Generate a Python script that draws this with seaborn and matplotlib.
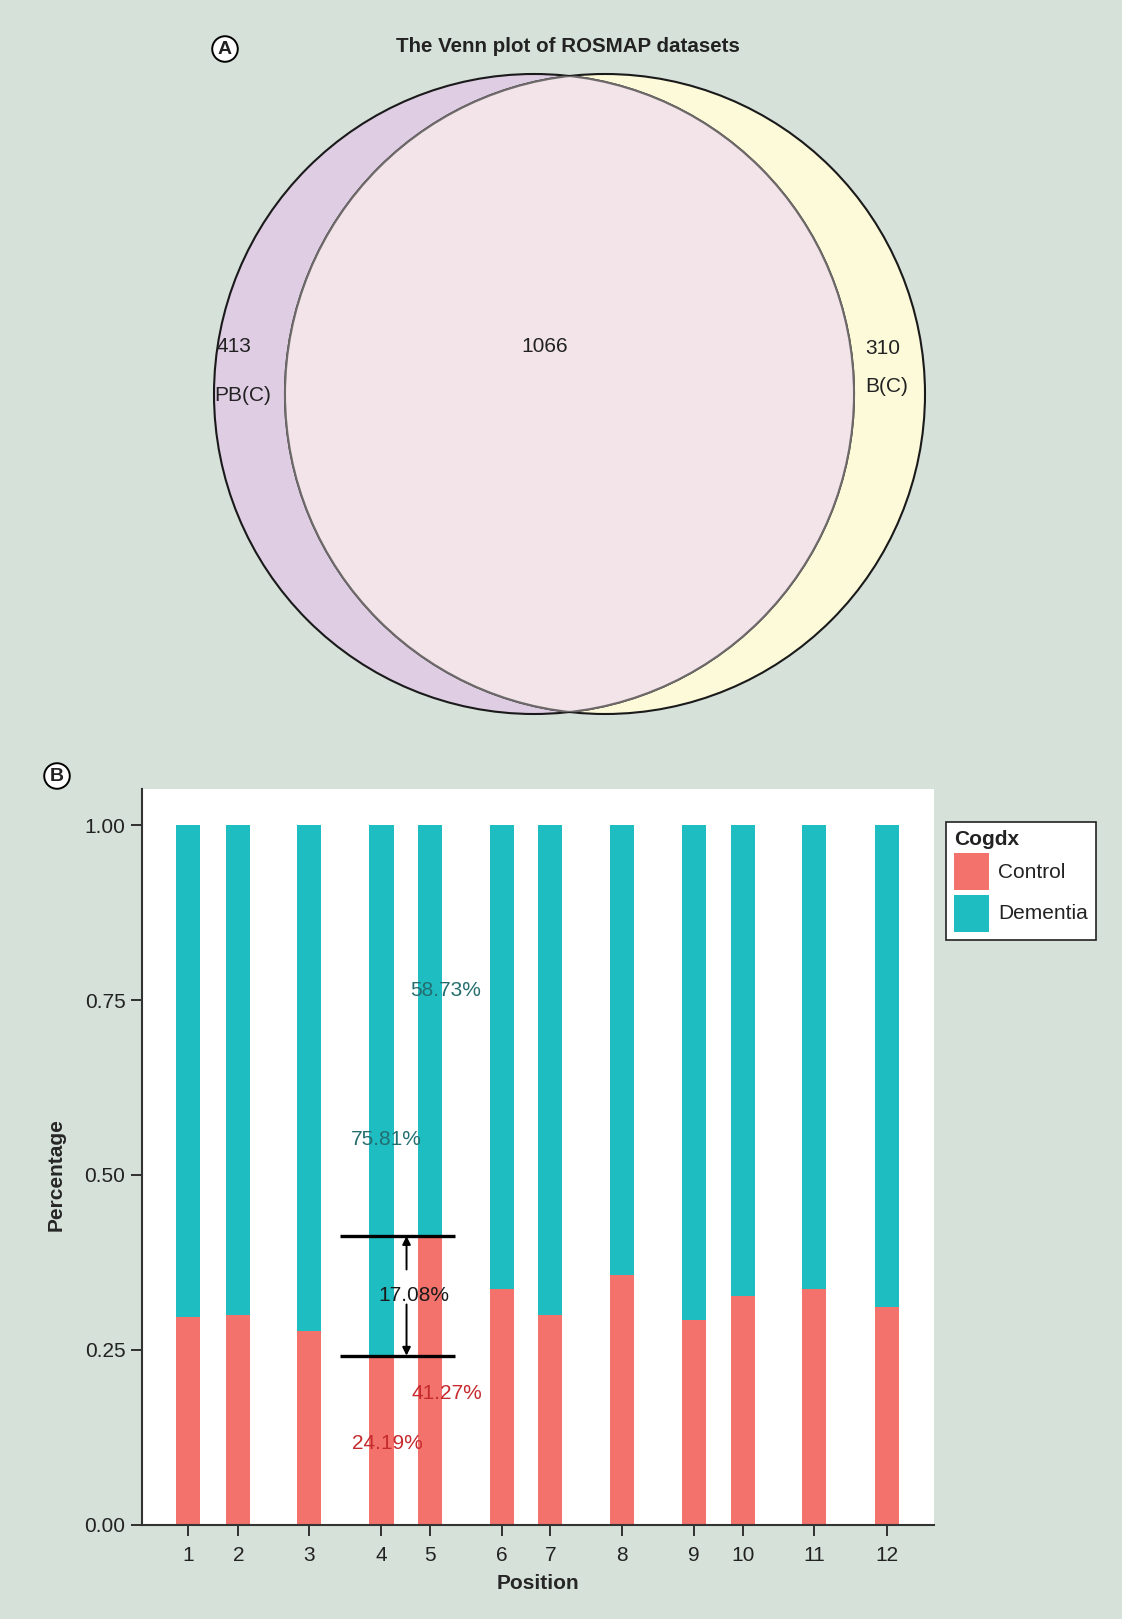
import numpy as np
import pandas as pd
import matplotlib
matplotlib.use("Agg")
import matplotlib.pyplot as plt
from matplotlib.patches import Circle, Patch
import seaborn as sns

# ---------------- data ----------------
venn_labels = ["PB(C)", "B(C)"]
venn_only_left = 413
venn_shared = 1066
venn_only_right = 310

position_values = [1.00, 1.70, 2.68, 3.69, 4.37, 5.37, 6.04, 7.04, 8.04, 8.72, 9.71, 10.73]
position_labels = ["1", "2", "3", "4", "5", "6", "7", "8", "9", "10", "11", "12"]
control_share = [0.2965, 0.2994, 0.2773, 0.2419, 0.4127, 0.3378,
                 0.2994, 0.3570, 0.2935, 0.3274, 0.3378, 0.3110]
group_names = ["Control", "Dementia"]

# ---------------- style ----------------
BG = "#d6e1d9"
RED = "#f3736c"
TEAL = "#1ebdc1"
RED_TXT = "#c62a2e"
TEAL_TXT = "#246e70"
FS = 15

sns.set_style("ticks")
plt.rcParams["font.family"] = ["Liberation Sans", "DejaVu Sans"]
plt.rcParams["text.color"] = "#222222"

fig = plt.figure(figsize=(11.22, 16.19), dpi=100, facecolor=BG)

# ---------------- panel A: Venn diagram (pixel-space overlay) ----------------
ov = fig.add_axes([0, 0, 1, 1])
ov.set_xlim(0, 1122)
ov.set_ylim(1619, 0)
ov.axis("off")
ov.patch.set_alpha(0)

r = 320
cl = (534, 394)
cr = (605, 394)
ov.add_patch(Circle(cl, r, facecolor="#dfcde4", edgecolor="none", zorder=1))
ov.add_patch(Circle(cr, r, facecolor="#fcfad9", edgecolor="none", zorder=1))
ov.add_patch(Circle(cl, r, facecolor="none", edgecolor="#1a1a1a", lw=1.5, zorder=2))
ov.add_patch(Circle(cr, r, facecolor="none", edgecolor="#1a1a1a", lw=1.5, zorder=2))

clip_left = Circle(cl, r, transform=ov.transData)
clip_right = Circle(cr, r, transform=ov.transData)
mid = Circle(cr, r, facecolor="#f3e4ea", edgecolor="none", zorder=3)
ov.add_patch(mid)
mid.set_clip_path(clip_left)
inner_r = Circle(cr, r, facecolor="none", edgecolor="#6e6a6a", lw=1.5, zorder=4)
ov.add_patch(inner_r)
inner_r.set_clip_path(clip_left)
inner_l = Circle(cl, r, facecolor="none", edgecolor="#6e6a6a", lw=1.5, zorder=4)
ov.add_patch(inner_l)
inner_l.set_clip_path(clip_right)

ov.text(568, 47, "The Venn plot of ROSMAP datasets", ha="center", va="center",
        fontsize=14.8, fontweight="bold", zorder=5)
ov.text(217, 347, str(venn_only_left), ha="left", va="center", fontsize=FS, zorder=5)
ov.text(214, 395, venn_labels[0], ha="left", va="center", fontsize=FS, zorder=5)
ov.text(545, 347, str(venn_shared), ha="center", va="center", fontsize=FS, zorder=5)
ov.text(883, 349, str(venn_only_right), ha="center", va="center", fontsize=FS, zorder=5)
ov.text(887, 386, venn_labels[1], ha="center", va="center", fontsize=FS, zorder=5)

circ = dict(boxstyle="circle,pad=0.22", fc="white", ec="black", lw=1.4)
ov.text(225, 49, "A", ha="center", va="center", fontsize=14, fontweight="bold", bbox=circ)
ov.text(57, 776, "B", ha="center", va="center", fontsize=14, fontweight="bold", bbox=circ)

# ---------------- panel B: stacked proportion bars ----------------
ax = fig.add_axes([0.1266, 0.0581, 0.7059, 0.4546])
ax.set_facecolor("white")

df = pd.DataFrame({"Position": position_values,
                   "Control": control_share})
df["Dementia"] = 1 - df["Control"]
df["Total"] = df["Control"] + df["Dementia"]

bar_w = 0.338
rel_w = bar_w / np.diff(np.sort(position_values)).min()

sns.barplot(data=df, x="Position", y="Total", native_scale=True, color=TEAL,
            saturation=1, width=rel_w, errorbar=None, ax=ax, linewidth=0)
sns.barplot(data=df, x="Position", y="Control", native_scale=True, color=RED,
            saturation=1, width=rel_w, errorbar=None, ax=ax, linewidth=0)

ax.set_xlim(0.36, 11.38)
ax.set_ylim(0, 1.0516)
ax.set_xticks(position_values)
ax.set_xticklabels(position_labels)
ax.set_yticks([0, 0.25, 0.5, 0.75, 1.0])
ax.set_yticklabels(["0.00", "0.25", "0.50", "0.75", "1.00"])
ax.tick_params(axis="both", labelsize=FS, length=8, width=1.3, color="#222222",
               labelcolor="#222222")
ax.tick_params(axis="x", pad=7)
ax.tick_params(axis="y", pad=4)
for s in ["top", "right"]:
    ax.spines[s].set_visible(False)
for s in ["left", "bottom"]:
    ax.spines[s].set_color("#333333")
    ax.spines[s].set_linewidth(1.5)

ax.set_xlabel("Position", fontsize=FS, fontweight="bold", labelpad=7)
ax.set_ylabel("Percentage", fontsize=FS, fontweight="bold")
ax.yaxis.set_label_coords(-0.097, 0.4755)

# annotations comparing positions 4 and 5
c4, c5 = control_share[3], control_share[4]
ax.text(4.59, 0.764, f"{(1 - c5) * 100:.2f}%", color=TEAL_TXT, fontsize=FS, ha="center", va="center")
ax.text(3.755, 0.551, f"{(1 - c4) * 100:.2f}%", color=TEAL_TXT, fontsize=FS, ha="center", va="center")
ax.text(4.60, 0.188, f"{c5 * 100:.2f}%", color=RED_TXT, fontsize=FS, ha="center", va="center")
ax.text(3.77, 0.116, f"{c4 * 100:.2f}%", color=RED_TXT, fontsize=FS, ha="center", va="center")
ax.hlines([c5, c4], 3.11, 4.72, color="black", lw=2.4, zorder=5)
ax.text(4.14, (c4 + c5) / 2, f"{(c5 - c4) * 100:.2f}%", color="#1a1a1a", fontsize=FS,
        ha="center", va="center", zorder=6)
ax.annotate("", xy=(4.04, c5), xytext=(4.04, 0.365),
            arrowprops=dict(arrowstyle="-|>", color="black", lw=1.4, mutation_scale=12,
                            shrinkA=0, shrinkB=0))
ax.annotate("", xy=(4.04, c4), xytext=(4.04, 0.315),
            arrowprops=dict(arrowstyle="-|>", color="black", lw=1.4, mutation_scale=12,
                            shrinkA=0, shrinkB=0))

handles = [Patch(facecolor=RED, edgecolor="none"), Patch(facecolor=TEAL, edgecolor="none")]
leg = fig.legend(handles, group_names, title="Cogdx", loc="upper left",
                 bbox_to_anchor=(946 / 1122, 1 - 822 / 1619), borderaxespad=0,
                 fontsize=FS, title_fontproperties={"weight": "bold", "size": FS},
                 handlelength=1.65, handleheight=2.35, labelspacing=0.2,
                 handletextpad=0.45, borderpad=0.4, alignment="left",
                 frameon=True, fancybox=False, facecolor="white", framealpha=1,
                 edgecolor="#222222")
leg.get_frame().set_linewidth(1.2)

fig.savefig("out.png", dpi=100, facecolor=BG)
